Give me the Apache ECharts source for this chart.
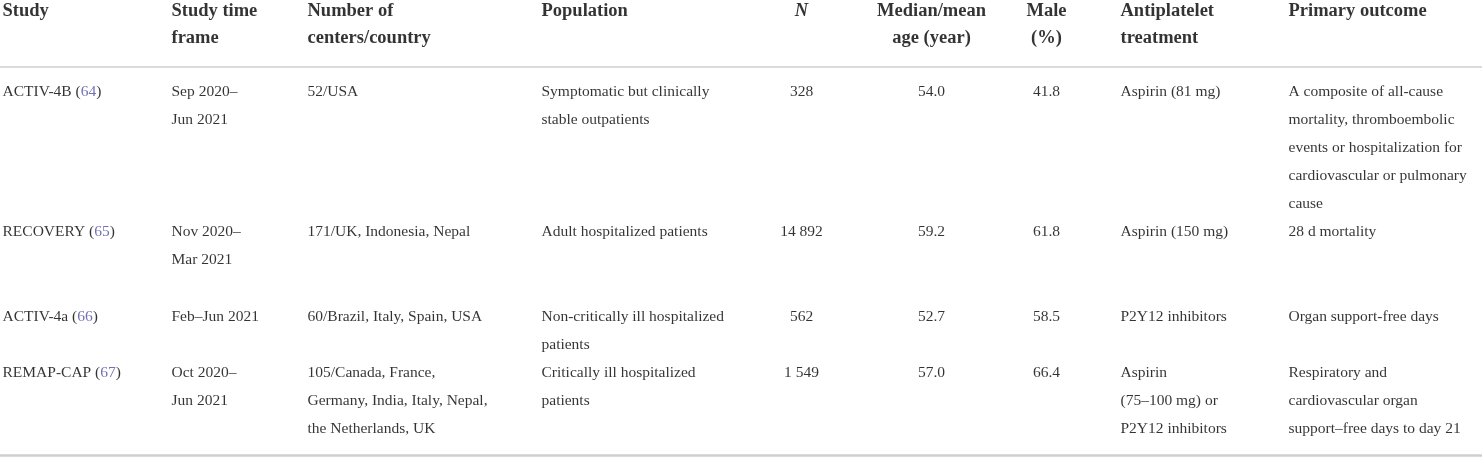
<!DOCTYPE html>
<html lang="en">

<head>
	<meta charset="UTF-8">
	<title>Antiplatelet trials</title>
	<script src="https://cdn.jsdelivr.net/npm/echarts@6/dist/echarts.min.js"></script>
	<style>
		html, body { margin: 0; padding: 0; background: #fff; }
	</style>
</head>

<body>
	<div id="main" style="width: 1482px;height: 458px;"></div>

	<script>
		// table content
		var headers = ['Study', 'Study time\nframe', 'Number of\ncenters/country', 'Population', 'N',
			'Median/mean\nage (year)', 'Male\n(%)', 'Antiplatelet\ntreatment', 'Primary outcome'];
		var studies = ['ACTIV-4B', 'RECOVERY', 'ACTIV-4a', 'REMAP-CAP'];
		var refs = [64, 65, 66, 67];
		var timeFrames = ['Sep 2020–\nJun 2021', 'Nov 2020–\nMar 2021', 'Feb–Jun 2021', 'Oct 2020–\nJun 2021'];
		var centers = ['52/USA', '171/UK, Indonesia, Nepal', '60/Brazil, Italy, Spain, USA',
			'105/Canada, France,\nGermany, India, Italy, Nepal,\nthe Netherlands, UK'];
		var populations = ['Symptomatic but clinically\nstable outpatients', 'Adult hospitalized patients',
			'Non-critically ill hospitalized\npatients', 'Critically ill hospitalized\npatients'];
		var sampleSizes = [328, 14892, 562, 1549];
		var ages = [54.0, 59.2, 52.7, 57.0];
		var malePct = [41.8, 61.8, 58.5, 66.4];
		var treatments = ['Aspirin (81 mg)', 'Aspirin (150 mg)', 'P2Y12 inhibitors',
			'Aspirin\n(75–100 mg) or\nP2Y12 inhibitors'];
		var outcomes = ['A composite of all-cause\nmortality, thromboembolic\nevents or hospitalization for\ncardiovascular or pulmonary\ncause',
			'28 d mortality', 'Organ support-free days',
			'Respiratory and\ncardiovascular organ\nsupport–free days to day 21'];

		// layout (page units)
		var colX = [3, 172, 308, 542, 802, 932, 1047, 1121, 1289];
		var colAlign = ['left', 'left', 'left', 'left', 'center', 'center', 'center', 'left', 'left'];
		var headerTop = -2;
		var rowTop = [78, 218, 303, 359];
		var ruleY = [67, 455];

		function fmtN(n) {
			var s = String(n);
			return s.length > 3 ? s.slice(0, s.length - 3) + ' ' + s.slice(-3) : s;
		}

		var columns = [
			studies.map(function (s, i) { return s + ' ({ref|' + refs[i] + '})'; }),
			timeFrames,
			centers,
			populations,
			sampleSizes.map(fmtN),
			ages.map(function (v) { return v.toFixed(1); }),
			malePct.map(function (v) { return v.toFixed(1); }),
			treatments,
			outcomes
		];

		var cells = [];
		headers.forEach(function (h, c) {
			cells.push({
				value: [colX[c], headerTop],
				label: {
					formatter: h, align: colAlign[c],
					fontWeight: 'bold', fontSize: 18.5, lineHeight: 27,
					fontStyle: h === 'N' ? 'italic' : 'normal'
				}
			});
		});
		columns.forEach(function (col, c) {
			col.forEach(function (txt, r) {
				cells.push({
					value: [colX[c], rowTop[r]],
					label: { formatter: txt, align: colAlign[c] }
				});
			});
		});

		var chartDom = document.getElementById('main');
		var myChart = echarts.init(chartDom);
		var option = {
			animation: false,
			grid: { left: 0, right: 0, top: 0, bottom: 0 },
			xAxis: { type: 'value', min: 0, max: 1482, show: false },
			yAxis: { type: 'value', min: 0, max: 458, inverse: true, show: false },
			series: [{
				type: 'scatter',
				symbolSize: 1,
				clip: false,
				itemStyle: { color: 'transparent' },
				silent: true,
				data: cells,
				label: {
					show: true,
					position: [0, 0],
					verticalAlign: 'top',
					fontFamily: 'Liberation Serif',
					fontSize: 15.5,
					lineHeight: 28,
					color: '#000',
					rich: {
						ref: { color: '#4d4da3', fontFamily: 'Liberation Serif', fontSize: 15.5, lineHeight: 28 }
					}
				},
				markLine: {
					silent: true,
					symbol: 'none',
					label: { show: false },
					data: ruleY.map(function (y, i) {
						return { yAxis: y, lineStyle: { color: '#cfcfcf', width: i === 0 ? 1.5 : 2.5, type: 'solid' } };
					})
				}
			}]
		};
		myChart.setOption(option);
	</script>
</body>

</html>
